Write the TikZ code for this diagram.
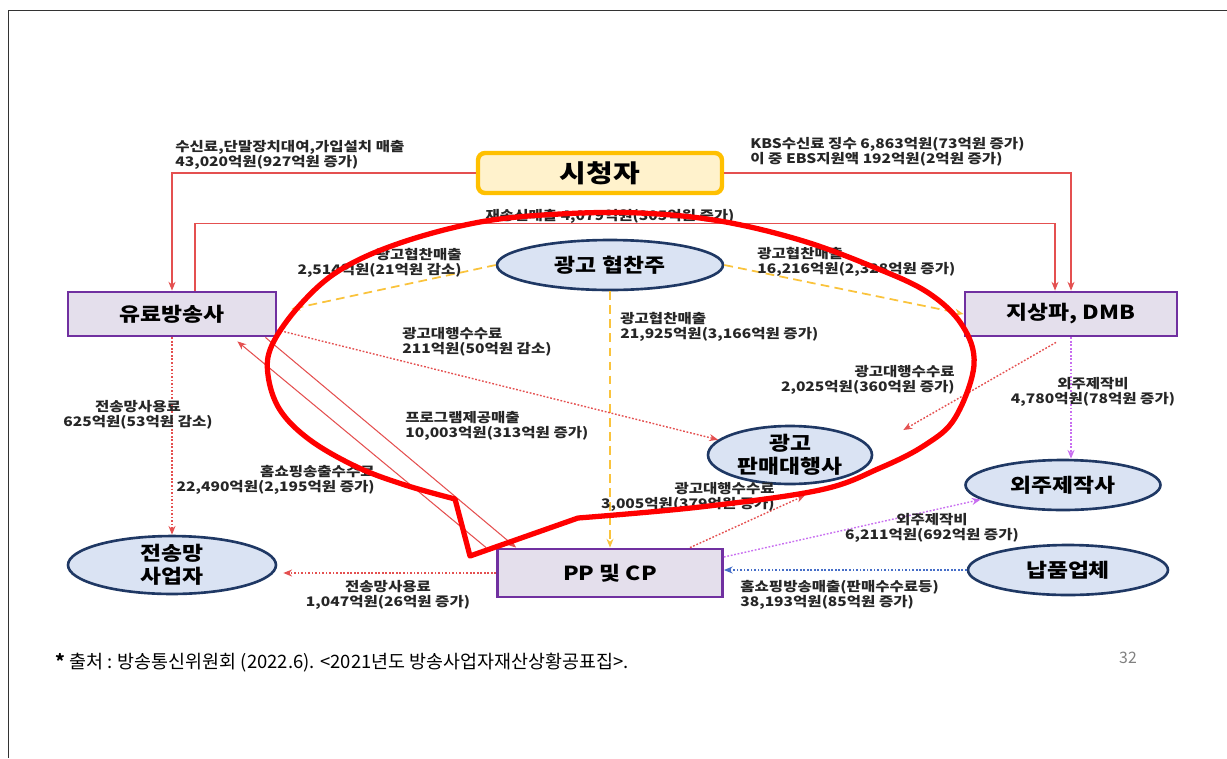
\documentclass[tikz,border=0pt]{standalone}
\usepackage{fontspec}
\setmainfont{Noto Sans CJK KR}
\newfontfamily\wide{Noto Sans CJK KR}[FakeStretch=1.18]
\usetikzlibrary{shapes.geometric,arrows.meta}
\definecolor{linered}{RGB}{228,80,80}
\definecolor{yel}{RGB}{250,195,60}
\definecolor{vio}{RGB}{200,110,240}
\definecolor{blu}{RGB}{70,110,200}
\definecolor{navy}{RGB}{31,56,100}
\definecolor{ellfill}{RGB}{218,227,243}
\definecolor{boxfill}{RGB}{228,223,236}
\definecolor{boxdraw}{RGB}{112,48,160}
\definecolor{vdraw}{RGB}{255,192,0}
\definecolor{vfill}{RGB}{255,242,204}
\definecolor{bigred}{RGB}{255,0,0}
\begin{document}
\begin{tikzpicture}[x=0.02cm,y=-0.02cm,
  lab/.style={font=\wide\bfseries\fontsize{7.5}{8.6}\selectfont, inner sep=0pt, text=black!85},
  tip/.style={-{Stealth[length=5pt,width=4pt]}},
  redl/.style={draw=linered, line width=0.6pt},
  reddot/.style={draw=linered, line width=0.8pt, dash pattern=on 1pt off 1pt},
  yeld/.style={draw=yel, line width=1pt, dash pattern=on 5pt off 3pt},
  viod/.style={draw=vio, line width=0.8pt, dash pattern=on 1pt off 1pt},
  blud/.style={draw=blu, line width=0.8pt, dash pattern=on 1pt off 1pt},
  box/.style={rectangle, draw=boxdraw, line width=1.6pt, fill=boxfill, inner sep=0pt,
    font=\wide\bfseries\fontsize{11}{13}\selectfont},
  ell/.style={ellipse, draw=navy, line width=1.5pt, fill=ellfill, inner sep=0pt, align=center,
    font=\wide\bfseries\fontsize{11}{13}\selectfont}]
\useasboundingbox (0,0) rectangle (1227,758);
\draw[black!80, line width=0.5pt] (8,758) -- (8,10) -- (1227,10);

% nodes
\node[rectangle, rounded corners=4pt, draw=vdraw, fill=vfill, line width=2.5pt,
  minimum width=4.88cm, minimum height=0.8cm, font=\wide\bfseries\fontsize{14}{16}\selectfont]
  (viewer) at (600,173) {시청자};
\node[ell, minimum width=4.52cm, minimum height=1.0cm] (sponsor) at (610,265) {광고 협찬주};
\node[box, minimum width=4.16cm, minimum height=0.88cm] (paytv) at (172,314) {유료방송사};
\node[box, minimum width=4.24cm, minimum height=0.88cm] (ter) at (1071,314) {지상파, DMB};
\node[ell, minimum width=3.28cm, minimum height=1.08cm] (agency) at (790,455) {광고\\판매대행사};
\node[ell, minimum width=3.9cm, minimum height=1.0cm] (ext) at (1063,485) {외주제작사};
\node[ell, minimum width=4.16cm, minimum height=1.12cm] (trans) at (172,565) {전송망\\사업자};
\node[box, minimum width=4.5cm, minimum height=0.96cm] (pp) at (610,573) {PP 및 CP};
\node[ell, minimum width=4.0cm, minimum height=1.0cm] (supp) at (1068,570) {납품업체};

% connectors
\draw[redl,tip] (viewer.west) -| (paytv.north);
\draw[redl,tip] (viewer.east) -| (ter.north);
\draw[redl,tip] ([xshift=0.46cm]paytv.north) -- ++(0,-67) -| ([xshift=-0.32cm]ter.north);
\draw[yeld,tip] (sponsor.west) -- ([xshift=0.28cm,yshift=0.1cm]paytv.east);
\draw[yeld,tip] (sponsor.east) -- (ter.west);
\draw[yeld,tip] (sponsor.south) -- (pp.north);
\draw[reddot,tip] ([yshift=-0.32cm]paytv.east) -- (agency.168);
\draw[reddot,tip] ([xshift=-0.3cm,yshift=-0.1cm]ter.south) -- ([xshift=0.6cm,yshift=0.5cm]agency.east);
\draw[reddot,tip] ([xshift=1.6cm]pp.north) -- ([xshift=0.3cm,yshift=-0.2cm]agency.south);
\draw[viod,tip] (ter.south) -- (ter.south |- ext.north);
\draw[viod,tip] ([yshift=0.32cm]pp.east) -- (ext.190);
\draw[blud,tip] (supp.west) -- (pp.east |- supp.west);
\draw[reddot,tip] (pp.west) -- ([xshift=0.12cm]pp.west -| trans.east);
\draw[reddot,tip] (paytv.south) -- (trans.north);
\draw[redl,tip] ([xshift=-0.2cm]pp.north west) -- ([xshift=-0.8cm,yshift=-0.08cm]paytv.south east);
\draw[redl,tip] ([xshift=-0.24cm]paytv.south east) -- ([xshift=0.4cm]pp.north west);

% labels
\node[lab, anchor=west, align=left] (l1) at (175,155) {수신료,단말장치대여,가입설치 매출\\43,020억원(927억원 증가)};
\node[lab, anchor=west, align=left] (l2) at (750,152) {KBS수신료 징수 6,863억원(73억원 증가)\\이 중 EBS지원액 192억원(2억원 증가)};
\node[lab] (l3) at (610,216) {재송신매출 4,079억원(305억원 증가)};
\node[lab, anchor=east, align=right] (l4) at (462,263) {광고협찬매출\\2,514억원(21억원 감소)};
\node[lab, anchor=west, align=left] (l5) at (757,262) {광고협찬매출\\16,216억원(2,328억원 증가)};
\node[lab, anchor=west, align=left] (l6) at (620,327) {광고협찬매출\\21,925억원(3,166억원 증가)};
\node[lab, anchor=west, align=left] (l7) at (402,342) {광고대행수수료\\211억원(50억원 감소)};
\node[lab, anchor=east, align=right] (l8) at (955,380) {광고대행수수료\\2,025억원(360억원 증가)};
\node[lab, align=center] (l9) at (1093,392) {외주제작비\\4,780억원(78억원 증가)};
\node[lab, anchor=east, align=right] (l10) at (775,497) {광고대행수수료\\3,005억원(379억원 증가)};
\node[lab, align=center] (l11) at (932,528) {외주제작비\\6,211억원(692억원 증가)};
\node[lab, anchor=west, align=left] (l12) at (740,595) {홈쇼핑방송매출(판매수수료등)\\38,193억원(85억원 증가)};
\node[lab, align=center] (l13) at (388,595) {전송망사용료\\1,047억원(26억원 증가)};
\node[lab, align=center] (l14) at (138,415) {전송망사용료\\625억원(53억원 감소)};
\node[lab, anchor=west, align=left] (l15) at (405,426) {프로그램제공매출\\10,003억원(313억원 증가)};
\node[lab, anchor=east, align=right] (l16) at (375,480) {홈쇼핑송출수수료\\22,490억원(2,195억원 증가)};

% big red freehand mark
\draw[bigred, line width=3pt, line join=round, line cap=round]
  plot[smooth, tension=0.6] coordinates {(578,518) (700,507) (820,490) (880,468) (925,445) (955,418) (974,365) (962,325) (927,292) (871,266) (800,240) (720,221) (640,213) (560,214) (480,222) (400,243) (340,270) (300,305) (272,345) (268,375) (280,410) (310,440) (357,467) (405,485) (455,499)}
  -- (470,556) -- (578,518);

% footer
\node[anchor=west, inner sep=0pt, font=\fontsize{10.5}{12}\selectfont] (src) at (55,663)
  {\textbf{*} 출처 : 방송통신위원회 (2022.6). <2021년도 방송사업자재산상황공표집>.};
\node[inner sep=0pt, text=black!50, font=\fontsize{9}{11}\selectfont] (pg) at (1128,658) {32};
\end{tikzpicture}
\end{document}
